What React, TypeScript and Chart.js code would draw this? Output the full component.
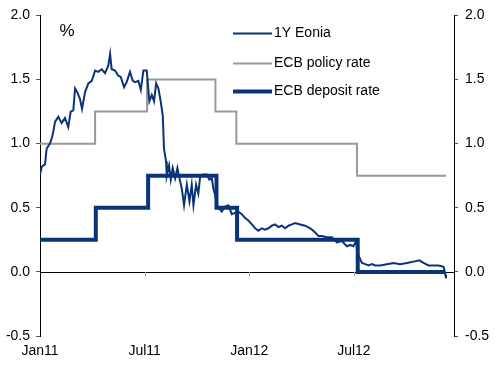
import React, { useEffect, useRef } from "react";
import { Chart, registerables } from "chart.js";

Chart.register(...registerables);

// x values are months since Jan 2011
const tickMonths = [0, 6, 12, 18];
const tickLabels = ["Jan11", "Jul11", "Jan12", "Jul12"];

const eoniaMonths = [
  0, 0.1, 0.29, 0.38, 0.57, 0.67, 0.76, 0.86, 1.05, 1.24, 1.43, 1.62, 1.76, 1.91, 2.01, 2.14, 2.29, 2.41, 2.58,
  2.77, 2.97, 3.16, 3.34, 3.54, 3.73, 3.92, 4.02, 4.11, 4.3, 4.49, 4.63, 4.82, 4.97, 5.16, 5.32, 5.45, 5.64,
  5.78, 5.93, 6.12, 6.27, 6.41, 6.54, 6.66, 6.79, 6.92, 7.04, 7.11, 7.23, 7.27, 7.4, 7.5, 7.61, 7.75, 7.88,
  8.03, 8.13, 8.26, 8.42, 8.57, 8.7, 8.8, 8.95, 9.08, 9.18, 9.37, 9.56, 9.71, 9.85, 9.94, 10.04, 10.14, 10.23,
  10.42, 10.61, 10.8, 11.0, 11.19, 11.38, 11.57, 11.76, 11.95, 12.15, 12.34, 12.52, 12.72, 12.91, 13.1, 13.29,
  13.48, 13.67, 13.87, 14.06, 14.25, 14.44, 14.63, 14.92, 15.2, 15.49, 15.68, 15.97, 16.16, 16.45, 16.74,
  17.02, 17.31, 17.6, 17.79, 17.97, 18.13, 18.2, 18.32, 18.46, 18.65, 18.84, 19.03, 19.22, 19.51, 19.89,
  20.27, 20.65, 21.04, 21.42, 21.76, 21.99, 22.28, 22.56, 22.85, 23.14, 23.24, 23.28,
];
const eoniaValues = [
  0.76, 0.82, 0.84, 0.96, 1.0, 1.04, 1.09, 1.17, 1.21, 1.16, 1.2, 1.13, 1.25, 1.26, 1.43, 1.4, 1.35, 1.27, 1.4,
  1.47, 1.49, 1.57, 1.56, 1.58, 1.55, 1.61, 1.7, 1.58, 1.57, 1.53, 1.52, 1.44, 1.48, 1.56, 1.49, 1.48, 1.49,
  1.42, 1.57, 1.57, 1.33, 1.38, 1.33, 1.47, 1.43, 1.33, 1.22, 0.96, 0.86, 0.75, 0.83, 0.72, 0.81, 0.73, 0.81,
  0.71, 0.65, 0.52, 0.68, 0.55, 0.68, 0.52, 0.68, 0.61, 0.74, 0.76, 0.76, 0.72, 0.73, 0.65, 0.6, 0.52, 0.5,
  0.47, 0.51, 0.52, 0.45, 0.46, 0.47, 0.45, 0.42, 0.4, 0.37, 0.34, 0.32, 0.34, 0.33, 0.34, 0.36,
  0.37, 0.35, 0.36, 0.34, 0.36, 0.37, 0.38, 0.37, 0.36, 0.34, 0.32, 0.28, 0.28, 0.27, 0.27,
  0.23, 0.24, 0.2, 0.21, 0.2, 0.24, 0.15, 0.11, 0.07, 0.06, 0.05, 0.06, 0.05, 0.05, 0.06,
  0.07, 0.06, 0.07, 0.08, 0.09, 0.07, 0.05, 0.05, 0.05, 0.04, -0.02, -0.05,
];

const policyMonths = [0, 3.16, 6.14, 10.06, 11.26, 18.18, 23.28];
const policyValues = [1.0, 1.25, 1.5, 1.25, 1.0, 0.75, 0.75];

const depositMonths = [0, 3.2, 6.2, 10.12, 11.3, 18.22, 23.24];
const depositValues = [0.25, 0.5, 0.75, 0.5, 0.25, 0.0, 0.0];

const NAVY = "#0b3478";
const GREY = "#999999";
const FONT = "'Liberation Sans', Arial, sans-serif";

const zip = (xs: number[], ys: number[]) => xs.map((x, i) => ({ x, y: ys[i] }));

const decorPlugin = {
  id: "decor",
  beforeDatasetsDraw(chart: any) {
    const { ctx, chartArea, scales } = chart;
    const y0 = scales.y.getPixelForValue(0);
    ctx.save();
    ctx.strokeStyle = "#000";
    ctx.lineWidth = 1;
    ctx.beginPath();
    ctx.moveTo(chartArea.left, Math.round(y0) + 0.5);
    ctx.lineTo(chartArea.right, Math.round(y0) + 0.5);
    ctx.stroke();
    ctx.strokeStyle = "#999";
    tickMonths.forEach((m) => {
      if (m === 0) return;
      const x = Math.round(scales.x.getPixelForValue(m)) + 0.5;
      ctx.beginPath();
      ctx.moveTo(x, y0);
      ctx.lineTo(x, y0 + 4);
      ctx.stroke();
    });
    ctx.restore();
  },
  afterDraw(chart: any) {
    const { ctx, chartArea } = chart;
    ctx.save();
    ctx.fillStyle = "#000";
    ctx.textBaseline = "middle";
    ctx.textAlign = "center";
    ctx.font = `17px ${FONT}`;
    ctx.fillText("%", chartArea.left + 27, chartArea.top + 16);
    ctx.textAlign = "left";
    ctx.font = `14px ${FONT}`;
    const rows = [18, 48, 76];
    chart.data.datasets.forEach((ds: any, i: number) => {
      const y = chartArea.top + rows[i];
      ctx.strokeStyle = ds.borderColor;
      ctx.lineWidth = ds.borderWidth;
      ctx.beginPath();
      ctx.moveTo(chartArea.left + 193, y);
      ctx.lineTo(chartArea.left + 232, y);
      ctx.stroke();
      ctx.fillText(ds.label, chartArea.left + 234, y);
    });
    ctx.restore();
  },
};

const yAxisCommon = {
  min: -0.5,
  max: 2.0,
  ticks: {
    stepSize: 0.5,
    color: "#000",
    font: { family: FONT, size: 14 },
    callback: (v: any) => Number(v).toFixed(1),
  },
  grid: { drawOnChartArea: false, drawTicks: true, tickLength: 4, color: "#555" },
  border: { display: true, color: "#000", width: 1 },
};

export default function App() {
  const ref = useRef<HTMLCanvasElement | null>(null);
  useEffect(() => {
    if (!ref.current) return;
    const chart = new Chart(ref.current, {
      type: "line",
      data: {
        datasets: [
          {
            label: "1Y Eonia",
            data: zip(eoniaMonths, eoniaValues),
            borderColor: NAVY,
            borderWidth: 2,
            pointRadius: 0,
            tension: 0,
            order: 1,
          },
          {
            label: "ECB policy rate",
            data: zip(policyMonths, policyValues),
            borderColor: GREY,
            borderWidth: 2,
            pointRadius: 0,
            stepped: "before",
            order: 3,
          },
          {
            label: "ECB deposit rate",
            data: zip(depositMonths, depositValues),
            borderColor: NAVY,
            borderWidth: 4,
            pointRadius: 0,
            stepped: "before",
            order: 2,
          },
        ],
      },
      options: {
        animation: false,
        responsive: false,
        devicePixelRatio: 1,
        layout: { padding: { top: 13, left: 0, right: 0, bottom: 0 } },
        plugins: { legend: { display: false }, tooltip: { enabled: false } },
        scales: {
          x: {
            type: "linear",
            min: 0,
            max: 23.74,
            afterBuildTicks: (axis: any) => {
              axis.ticks = tickMonths.map((v) => ({ value: v }));
            },
            afterFit: (s: any) => {
              s.height = 34;
            },
            ticks: {
              color: "#000",
              padding: 7,
              maxRotation: 0,
              autoSkip: false,
              font: { family: FONT, size: 14 },
              callback: (v: any) => {
                const i = tickMonths.indexOf(Number(v));
                return i >= 0 ? tickLabels[i] : "";
              },
            },
            grid: { display: false, drawTicks: false },
            border: { display: false },
          },
          y: {
            ...yAxisCommon,
            position: "left",
            ticks: { ...yAxisCommon.ticks, padding: 6 },
            afterFit: (s: any) => {
              s.width = 40;
            },
          },
          y2: {
            ...yAxisCommon,
            position: "right",
            ticks: { ...yAxisCommon.ticks, padding: 7 },
            afterFit: (s: any) => {
              s.width = 45;
            },
          },
        },
      } as any,
      plugins: [decorPlugin],
    });
    return () => chart.destroy();
  }, []);
  return (
    <div style={{ position: "fixed", left: 0, top: 0, width: 499, height: 370, background: "#fff" }}>
      <canvas ref={ref} width={499} height={370} style={{ display: "block" }} />
    </div>
  );
}
